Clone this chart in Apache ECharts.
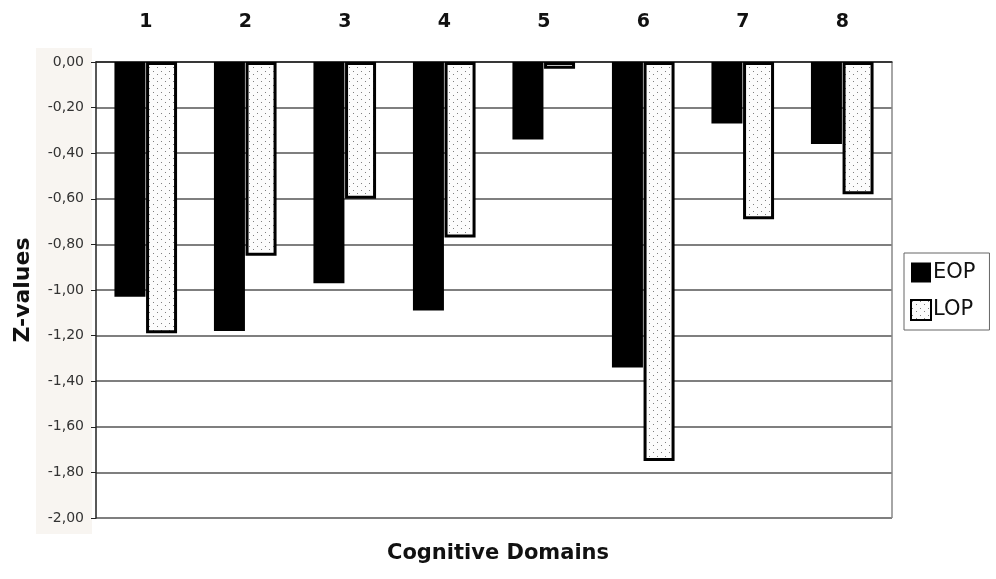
<!DOCTYPE html>
<html><head><meta charset="utf-8">
<script src="https://cdn.jsdelivr.net/npm/echarts@6/dist/echarts.min.js"></script>
<style>html,body{margin:0;padding:0;background:#fff}#c{width:996px;height:579px}</style>
</head><body><div id="c"></div>
<script>
const categories = ['1','2','3','4','5','6','7','8'];
const eopValues = [-1.03, -1.18, -0.97, -1.09, -0.34, -1.34, -0.27, -0.36];
const lopValues = [-1.19, -0.85, -0.60, -0.77, -0.03, -1.75, -0.69, -0.58];
const seriesNames = ['EOP', 'LOP'];

const pc = document.createElement('canvas');
pc.width = 8; pc.height = 7;
const g = pc.getContext('2d');
g.fillStyle = '#fcfcfc'; g.fillRect(0,0,8,7);
g.fillStyle = '#808080';
g.fillRect(1,1,1,1); g.fillRect(5,4,1,1);

const chart = echarts.init(document.getElementById('c'));
const fmt = v => v.toFixed(2).replace('.', ',');
chart.setOption({
  animation: false,
  backgroundColor: '#fff',
  title: {text:'Cognitive Domains', left:'center', top:538,
    textStyle:{fontFamily:'DejaVu Sans', fontWeight:'bold', fontSize:21, color:'#111'}},
  legend: {orient:'vertical', left:904, top:253, itemWidth:20, itemHeight:20, itemGap:16,
    padding:[9,14,9,6], borderColor:'#666', borderWidth:1, icon:'rect',
    textStyle:{fontFamily:'DejaVu Sans', fontSize:21, color:'#111', padding:[0,0,0,-3]},
    data: seriesNames},
  grid: {left:96, right:104, top:62, bottom:61},
  xAxis: {type:'category', data:categories, position:'top',
    axisLine:{lineStyle:{color:'#222', width:1.5}},
    axisTick:{inside:true, length:7, lineStyle:{color:'#333'}},
    axisLabel:{margin:30, fontFamily:'DejaVu Sans', fontWeight:'bold', fontSize:19, color:'#111'}},
  yAxis: {type:'value', min:-2, max:0, interval:0.2,
    name:'Z-values', nameLocation:'middle', nameRotate:90, nameGap:62,
    nameTextStyle:{fontFamily:'DejaVu Sans', fontWeight:'bold', fontSize:22, color:'#111'},
    axisLine:{show:true, lineStyle:{color:'#222', width:1.5}},
    axisTick:{show:true, length:5, lineStyle:{color:'#222'}},
    axisLabel:{formatter:fmt, fontFamily:'DejaVu Sans', fontSize:14, color:'#333', margin:12},
    splitLine:{lineStyle:{color:'#555', width:1.5}}},
  series: [
    {name:seriesNames[0], type:'bar', data:eopValues, barWidth:31, barGap:'2%',
      itemStyle:{color:'#000'}},
    {name:seriesNames[1], type:'bar', data:lopValues, barWidth:31,
      itemStyle:{color:{image:pc, repeat:'repeat'}, borderColor:'#000', borderWidth:3}}
  ]
});
const r = chart.getModel().getComponent('grid').coordinateSystem.getRect();
chart.setOption({graphic:[{type:'rect', shape:{x:36,y:48,width:56,height:486}, style:{fill:'#f8f5f1'}, z:-1},
  {type:'line', shape:{x1:r.x+r.width, y1:r.y, x2:r.x+r.width, y2:r.y+r.height}, style:{stroke:'#888', lineWidth:1.5}}]});
</script>
</body></html>
